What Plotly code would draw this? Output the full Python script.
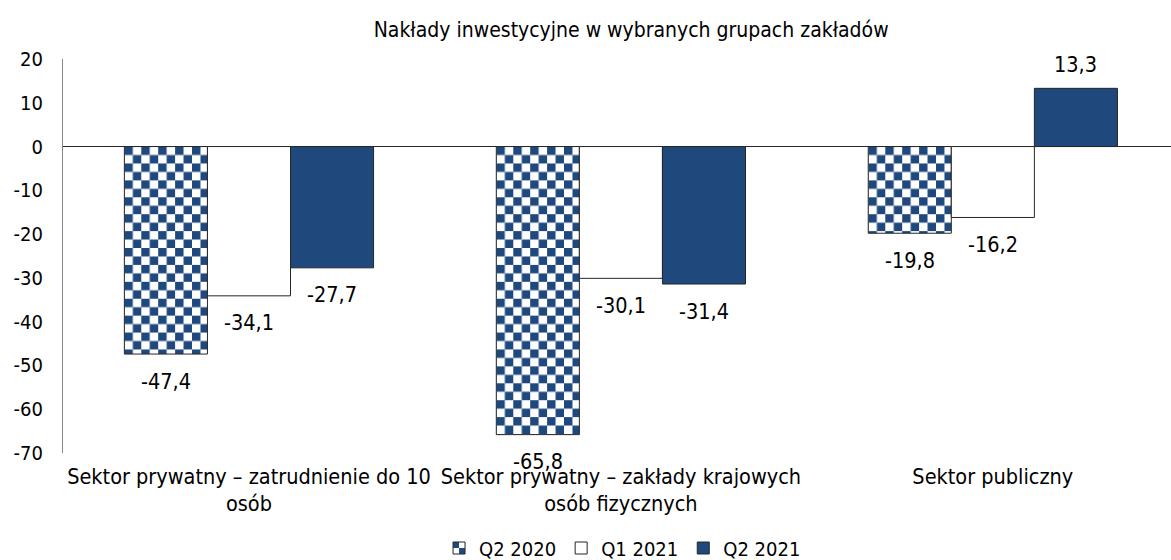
import plotly.graph_objects as go

# Chart data
categories = [
    "Sektor prywatny – zatrudnienie do 10<br>osób",
    "Sektor prywatny – zakłady krajowych<br>osób fizycznych",
    "Sektor publiczny",
]
series_names = ["Q2 2020", "Q1 2021", "Q2 2021"]
q2_2020 = [-47.4, -65.8, -19.8]
q1_2021 = [-34.1, -30.1, -16.2]
q2_2021 = [-27.7, -31.4, 13.3]
y_ticks = [20, 10, 0, -10, -20, -30, -40, -50, -60, -70]

FONT = "DejaVu Sans Condensed, DejaVu Sans, sans-serif"
BLUE = "#1F497D"
EDGE = "#262626"
BARGAP = 0.33

fig = go.Figure()

styles = [
    dict(color="white", pattern=dict(shape="+", fgcolor=BLUE, bgcolor="white", size=16, solidity=0.5)),
    dict(color="white"),
    dict(color=BLUE),
]
all_values = [q2_2020, q1_2021, q2_2021]

for name, vals, st in zip(series_names, all_values, styles):
    fig.add_trace(go.Bar(
        x=categories, y=vals, name=name,
        marker=dict(line=dict(color=EDGE, width=1), **st),
        hoverinfo="skip",
    ))

# value labels placed just beyond the end of each bar
bar_w = (1 - BARGAP) / len(series_names)
offsets = [(i - 1) * bar_w for i in range(len(series_names))]
for vals, off in zip(all_values, offsets):
    for ci, v in enumerate(vals):
        fig.add_annotation(
            x=ci + off, y=v, xref="x", yref="y",
            text=f"{v:.1f}".replace(".", ","),
            showarrow=False, yanchor="middle",
            yshift=24 if v > 0 else -27,
            font=dict(family=FONT, size=21.5, color="black"),
        )

fig.update_layout(
    width=1171, height=560,
    margin=dict(l=63, r=0, t=59, b=107, autoexpand=False),
    paper_bgcolor="white", plot_bgcolor="white",
    barmode="group", bargap=BARGAP, bargroupgap=0,
    font=dict(family=FONT, color="black"),
    title=dict(
        text="Nakłady inwestycyjne w wybranych grupach zakładów",
        x=0.539, xanchor="center", xref="container",
        y=1 - 30 / 560, yanchor="middle", yref="container",
        font=dict(family=FONT, size=21, color="black"),
    ),
    legend=dict(
        orientation="h", x=0.505, xanchor="center", xref="paper",
        y=1 - 548 / 560, yanchor="middle", yref="container",
        font=dict(family=FONT, size=20, color="black"),
        itemwidth=30, traceorder="normal",
    ),
    showlegend=True,
)

fig.update_xaxes(
    type="category", range=[-0.5, 2.479], automargin=False,
    showline=False, showgrid=False, zeroline=False, ticks="",
    tickfont=dict(family=FONT, size=21.5, color="black"),
    ticklabelstandoff=8,
)
fig.update_yaxes(
    range=[-70, 20], tickvals=y_ticks, ticktext=[str(t) for t in y_ticks],
    automargin=False,
    showline=True, linecolor="#868686", linewidth=1,
    showgrid=False, zeroline=True, zerolinecolor="#262626", zerolinewidth=1,
    ticks="", tickfont=dict(family=FONT, size=20, color="black"),
    ticklabelstandoff=15,
)

# Replace the plotly fill pattern with a two-colour checkerboard aligned to each bar edge
checker_js = """
var gd = document.getElementById('{plot_id}');
var NS = 'http://www.w3.org/2000/svg';
var cell = 372 / 44;
var pats = gd.querySelectorAll('pattern');
pats.forEach(function(p){
  var id = p.getAttribute('id');
  var s = cell;
  var ref = null;
  gd.querySelectorAll('path').forEach(function(el){
    var f = el.style.fill || el.getAttribute('fill') || '';
    if (!ref && f.indexOf(id) >= 0) { ref = el; }
  });
  if (ref && ref.closest('.legend')) { s = 6; }
  while (p.firstChild) { p.removeChild(p.firstChild); }
  p.setAttribute('width', 2 * s);
  p.setAttribute('height', 2 * s);
  p.removeAttribute('patternTransform');
  if (ref) {
    var bb = ref.getBBox();
    p.setAttribute('x', bb.x);
    p.setAttribute('y', bb.y);
  }
  var bg = document.createElementNS(NS, 'rect');
  bg.setAttribute('width', 2 * s); bg.setAttribute('height', 2 * s);
  bg.setAttribute('fill', 'white');
  p.appendChild(bg);
  [[0, 0], [s, s]].forEach(function(o){
    var r = document.createElementNS(NS, 'rect');
    r.setAttribute('x', o[0]); r.setAttribute('y', o[1]);
    r.setAttribute('width', s); r.setAttribute('height', s);
    r.setAttribute('fill', '#1F497D');
    p.appendChild(r);
  });
});
"""

fig.write_html("out.html", post_script=checker_js)
